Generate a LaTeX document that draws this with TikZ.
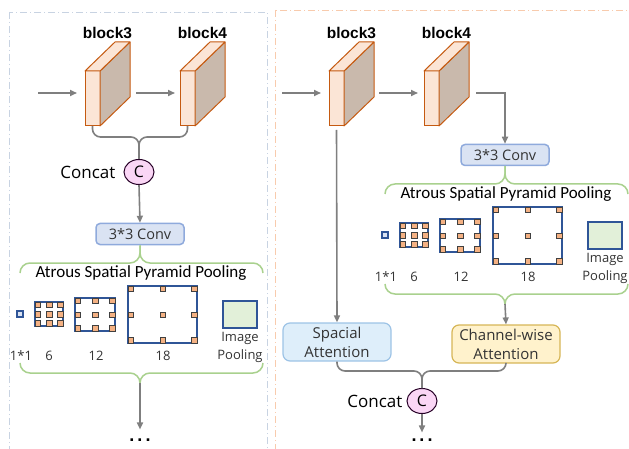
\documentclass[tikz,border=0pt]{standalone}
\usepackage{fontspec}
\setmainfont{Open Sans}
\newfontfamily\hdfont{Liberation Sans}
\newfontfamily\calfont{Carlito}
\usepackage{tikz}
\usetikzlibrary{arrows.meta, positioning, shapes.geometric}
\definecolor{peach}{RGB}{251,229,214}
\definecolor{rust}{RGB}{197,90,17}
\definecolor{taupe}{RGB}{201,185,172}
\definecolor{convfill}{RGB}{218,227,243}
\definecolor{convline}{RGB}{143,170,220}
\definecolor{leaf}{RGB}{169,209,142}
\definecolor{navy}{RGB}{47,85,151}
\definecolor{tapfill}{RGB}{244,177,131}
\definecolor{poolfill}{RGB}{226,240,217}
\definecolor{skyfill}{RGB}{222,238,250}
\definecolor{skyline}{RGB}{157,195,230}
\definecolor{sandfill}{RGB}{255,242,204}
\definecolor{sandline}{RGB}{214,182,86}
\definecolor{pinkfill}{RGB}{250,214,245}
\definecolor{flow}{RGB}{127,127,127}
\definecolor{frameL}{RGB}{200,211,226}
\definecolor{frameR}{RGB}{248,203,173}

% feature block: name, x of front face centre, label
\newcommand{\featblk}[3]{%
  \node[face] (#1) at (#2,98.5) {};
  \filldraw[draw=rust, fill=taupe, line width=1pt, line join=round]
    (#1.north east) -- ++(30,-29) -- ++(0,55) -- (#1.south east) -- cycle;
  \filldraw[draw=rust, fill=peach, line width=1pt, line join=round]
    (#1.north west) -- ++(30,-29) -- ++(15,0) -- (#1.north east) -- cycle;
  \node[hd] (#1-t) at (#2+15,33) {#3};
}
% dilated kernel: name, cx, cy, width, height
\newcommand{\dilbox}[5]{%
  \node[rate, minimum width=#4, minimum height=#5] (#1) at (#2,#3) {};
  \foreach \a in {north west, north, north east, west, center, east,
                  south west, south, south east}
    \node[tap, anchor=\a] at (#1.\a) {};
}
% conv + ASPP group, prefix for names
\newcommand{\asppblock}[1]{%
  \node[conv] (#1conv) at (140,234) {3*3 Conv};
  \draw[bracel] (20,273) |- (140,263) -- (#1conv.south);
  \draw[bracel] (263,273) |- (140,263) -- (#1conv.south);
  \node[aspptxt] (#1name) at (141,273) {Atrous Spatial Pyramid Pooling};
  \node[rate, minimum size=6pt, line width=1.2pt, fill=convfill] (#1r1) at (20,314) {};
  \dilbox{#1r6}{49}{314}{28pt}{24pt}
  \dilbox{#1r12}{95}{314.5}{40pt}{33pt}
  \dilbox{#1r18}{162.5}{314.5}{69pt}{57pt}
  \node[rate, fill=poolfill, minimum width=34pt, minimum height=27pt] (#1pool) at (240,314.5) {};
  \node[rlab] (#1l1) at (21,356) {1*1};
  \node[rlab] (#1l6) at (49,356) {6};
  \node[rlab] (#1l12) at (96,356) {12};
  \node[rlab] (#1l18) at (163,356) {18};
  \node[rlab, align=center] (#1pt) at (240,347) {Image\\Pooling};
  \draw[bracel] (20,363) |- (140,373) -- (140,383) coordinate (#1out);
  \draw[bracel] (263,363) |- (140,373) -- (#1out);
}

\begin{document}
\begin{tikzpicture}[x=1pt, y=-1pt,
    face/.style={draw=rust, fill=peach, line width=1pt, minimum width=15pt,
                 minimum height=55pt, inner sep=0pt, outer sep=0pt},
    hd/.style={font=\hdfont\bfseries\fontsize{15.5}{17}\selectfont},
    rate/.style={draw=navy, line width=1.5pt, fill=white, inner sep=0pt, outer sep=0pt},
    tap/.style={draw=black!75, fill=tapfill, line width=0.4pt, minimum size=5.5pt,
                inner sep=0pt, outer sep=0pt},
    conv/.style={draw=convline, fill=convfill, line width=1.5pt, rounded corners=4pt,
                 minimum width=88pt, minimum height=21pt, inner sep=0pt,
                 font=\fontsize{14.5}{17}\selectfont, text=black!80},
    att/.style={line width=1.2pt, rounded corners=7pt, minimum width=108pt, minimum height=38pt,
                inner sep=0pt, align=center, font=\fontsize{15}{19}\selectfont, text=black!80},
    aspptxt/.style={font=\calfont\fontsize{17}{19}\selectfont},
    rlab/.style={font=\fontsize{13}{18}\selectfont, text=black!80, inner sep=0pt},
    bracel/.style={draw=leaf, line width=1.5pt, rounded corners=10pt},
    cat/.style={ellipse, draw=black!70!violet, fill=pinkfill, line width=1pt, minimum width=30pt,
                minimum height=25pt, inner sep=0pt, font=\fontsize{16}{18}\selectfont},
    cattxt/.style={font=\fontsize{17}{20}\selectfont, inner sep=0pt},
    ell/.style={font=\hdfont\bfseries\fontsize{18}{18}\selectfont, inner sep=0pt},
    arr/.style={draw=flow, line width=1.6pt, -{Triangle[length=7pt, width=6pt]}},
    link/.style={draw=flow, line width=1.6pt, rounded corners=8pt}]
  \clip (0,0) rectangle (629,449);
  % panels
  \draw[frameL, line width=0.8pt, dash pattern=on 7pt off 3pt on 1pt off 3pt] (9,12) rectangle (267,470);
  \draw[frameR, line width=0.8pt, dash pattern=on 7pt off 3pt on 1pt off 3pt] (275,10) rectangle (640,470);

  % left: concat of block3 and block4, then ASPP
  \featblk{b3L}{92.5}{block3}
  \featblk{b4L}{187.5}{block4}
  \coordinate (inL) at (38,93);
  \draw[arr, shorten >=8pt] (inL) -- (inL -| b3L.west);
  \draw[arr, shorten <=36pt, shorten >=5pt] (inL -| b3L.east) -- (inL -| b4L.west);
  \node[cat] (cL) at (139,172) {C};
  \node[cattxt, left=8pt of cL] (cLt) {Concat};
  \coordinate (jL) at (139,137);
  \draw[link] (b3L.south) |- (jL) -- (cL.north);
  \draw[link] (b4L.south) |- (jL) -- (cL.north);
  \asppblock{L}
  \draw[arr] (cL.south) -- (Lconv.north);
  \node[ell] (eL) at (140,440) {.\,.\,.};
  \draw[arr, shorten >=9pt] (Lout) -- (eL.north);

  % right: ASPP on block4, attention branches
  \featblk{b3R}{336.5}{block3}
  \featblk{b4R}{431.5}{block4}
  \coordinate (inR) at (282,93);
  \draw[arr, shorten >=8pt] (inR) -- (inR -| b3R.west);
  \draw[arr, shorten <=35pt, shorten >=6pt] (inR -| b3R.east) -- (inR -| b4R.west);
  \begin{scope}[shift={(365,-79)}]
    \asppblock{R}
  \end{scope}
  \coordinate (o4) at (476,93);
  \draw[arr] (o4) -| (Rconv.north);
  \node[att, fill=skyfill, draw=skyline] (spa) at (337,342) {Spacial\\Attention};
  \node[att, fill=sandfill, draw=sandline] (chan) at (506,344) {Channel-wise\\Attention};
  \draw[arr, shorten <=4pt] (b3R.south) -- (spa.north);
  \draw[arr] (Rout) -- (chan.north);
  \node[cat] (cR) at (422,401) {C};
  \node[cattxt, left=4pt of cR] (cRt) {Concat};
  \coordinate (jR) at (422,371);
  \draw[link] (spa.south) |- (jR) -- (cR.north);
  \draw[link] (chan.south) |- (jR) -- (cR.north);
  \node[ell] (eR) at (422,440) {.\,.\,.};
  \draw[arr, shorten >=6pt] (cR.south) -- (eR.north);
\end{tikzpicture}
\end{document}
